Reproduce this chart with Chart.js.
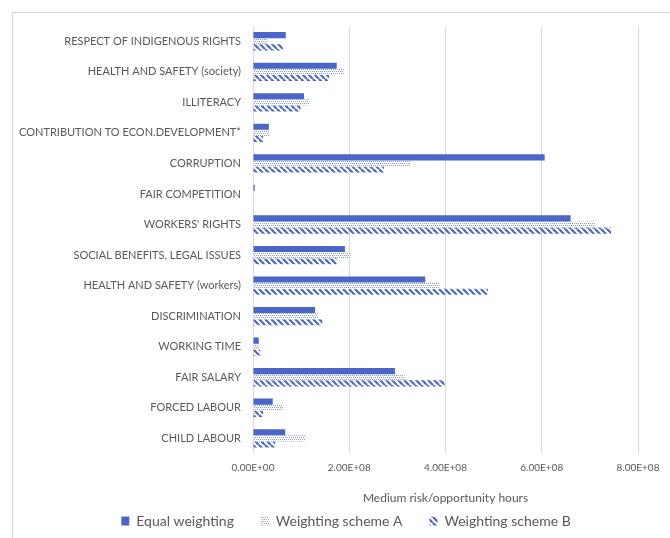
<!DOCTYPE html>
<html>
<head>
<meta charset="utf-8">
<script src="https://cdn.jsdelivr.net/npm/chart.js@4"></script>
<style>
  body { margin: 0; background: #fff; overflow: hidden; }
  #frame { position: absolute; left: 12px; top: 12px; width: 700px; height: 540px;
           border-left: 1px solid #d9d9d9; border-top: 1px solid #d9d9d9; }
  #wrap { position: absolute; left: 0; top: 0; width: 666px; height: 525px; }
</style>
</head>
<body>
<div id="frame"><div id="wrap"><canvas id="riskChart"></canvas></div></div>
<script>
var categories = [
  'RESPECT OF INDIGENOUS RIGHTS',
  'HEALTH AND SAFETY (society)',
  'ILLITERACY',
  'CONTRIBUTION TO ECON.DEVELOPMENT*',
  'CORRUPTION',
  'FAIR COMPETITION',
  "WORKERS' RIGHTS",
  'SOCIAL BENEFITS, LEGAL ISSUES',
  'HEALTH AND SAFETY (workers)',
  'DISCRIMINATION',
  'WORKING TIME',
  'FAIR SALARY',
  'FORCED LABOUR',
  'CHILD LABOUR'
];
var seriesNames = ['Equal weighting', 'Weighting scheme A', 'Weighting scheme B'];

// medium risk/opportunity hours
var equalWeighting = [0.68e8, 1.74e8, 1.06e8, 0.33e8, 6.06e8, 0.035e8, 6.60e8, 1.91e8, 3.58e8, 1.29e8, 0.12e8, 2.95e8, 0.41e8, 0.67e8];
var schemeA        = [0.30e8, 1.89e8, 1.17e8, 0.34e8, 3.26e8, 0.015e8, 7.10e8, 2.03e8, 3.88e8, 1.35e8, 0.13e8, 3.15e8, 0.63e8, 1.09e8];
var schemeB        = [0.62e8, 1.58e8, 0.99e8, 0.21e8, 2.72e8, 0.015e8, 7.44e8, 1.74e8, 4.88e8, 1.44e8, 0.15e8, 3.98e8, 0.21e8, 0.46e8];

var xTicks = [0, 2e8, 4e8, 6e8, 8e8];

var blue = '#4a66c8';
var grey = '#595959';

function dotPattern() {
  var c = document.createElement('canvas');
  c.width = 4; c.height = 4;
  var g = c.getContext('2d');
  g.fillStyle = '#ffffff';
  g.fillRect(0, 0, 4, 4);
  g.fillStyle = '#8599e0';
  g.fillRect(0, 0, 1, 1);
  g.fillRect(2, 0, 1, 1);
  g.fillRect(1, 2, 1, 1);
  g.fillRect(3, 2, 1, 1);
  return g.createPattern(c, 'repeat');
}

function stripePattern() {
  var c = document.createElement('canvas');
  c.width = 6; c.height = 6;
  var g = c.getContext('2d');
  g.strokeStyle = blue;
  g.lineWidth = 2.2;
  [-6, 0, 6].forEach(function (o) {
    g.beginPath();
    g.moveTo(o, 0);
    g.lineTo(o + 6, 6);
    g.stroke();
  });
  return g.createPattern(c, 'repeat');
}

function sci(v) {
  var parts = v.toExponential(2).toUpperCase().split('E');
  var exp = parts[1];
  var sign = exp[0] === '-' ? '-' : '+';
  var digits = exp.replace(/[+-]/, '');
  if (digits.length < 2) digits = '0' + digits;
  return parts[0] + 'E' + sign + digits;
}

var ctx = document.getElementById('riskChart').getContext('2d');
var riskChart = new Chart(ctx, {
  type: 'bar',
  data: {
    labels: categories,
    datasets: [
      { label: seriesNames[0], data: equalWeighting, backgroundColor: blue },
      { label: seriesNames[1], data: schemeA, backgroundColor: dotPattern() },
      { label: seriesNames[2], data: schemeB, backgroundColor: stripePattern() }
    ]
  },
  options: {
    indexAxis: 'y',
    responsive: true,
    maintainAspectRatio: false,
    animation: false,
    datasets: {
      bar: { categoryPercentage: 0.6, barPercentage: 1.0 }
    },
    layout: { padding: { top: 13, right: 0, bottom: 0, left: 0 } },
    scales: {
      x: {
        min: 0,
        max: 8e8,
        afterBuildTicks: function (scale) {
          scale.ticks = xTicks.map(function (v) { return { value: v }; });
        },
        ticks: {
          callback: function (v) { return sci(v); },
          color: grey,
          font: { family: 'Lato', size: 10 },
          padding: 8,
          maxRotation: 0
        },
        grid: { color: '#d9d9d9', drawTicks: false },
        border: { display: false },
        title: {
          display: true,
          text: 'Medium risk/opportunity hours',
          color: grey,
          font: { family: 'Lato', size: 12 },
          padding: { top: 9, bottom: 0 }
        }
      },
      y: {
        afterFit: function (scale) {
          scale.width = 240;
          scale.paddingTop = 0;
          scale.paddingBottom = 0;
        },
        ticks: {
          color: grey,
          font: { family: 'Lato', size: 11 },
          padding: 12
        },
        grid: { display: false, drawTicks: false },
        border: { display: true, color: '#d9d9d9' }
      },
      // empty strip to the right of the plot
      yRight: {
        type: 'category',
        position: 'right',
        afterFit: function (scale) {
          scale.width = 41;
          scale.paddingTop = 0;
          scale.paddingBottom = 0;
        },
        ticks: { display: false },
        grid: { display: false, drawTicks: false },
        border: { display: false }
      }
    },
    plugins: {
      legend: {
        position: 'bottom',
        labels: {
          boxWidth: 8,
          boxHeight: 9,
          color: grey,
          font: { family: 'Lato', size: 14 },
          padding: 9,
          generateLabels: function (chart) {
            var items = Chart.defaults.plugins.legend.labels.generateLabels(chart);
            items.forEach(function (item, i) {
              if (i < items.length - 1) item.text += '     ';
            });
            return items;
          }
        }
      },
      tooltip: { enabled: false }
    }
  }
});
</script>
</body>
</html>
